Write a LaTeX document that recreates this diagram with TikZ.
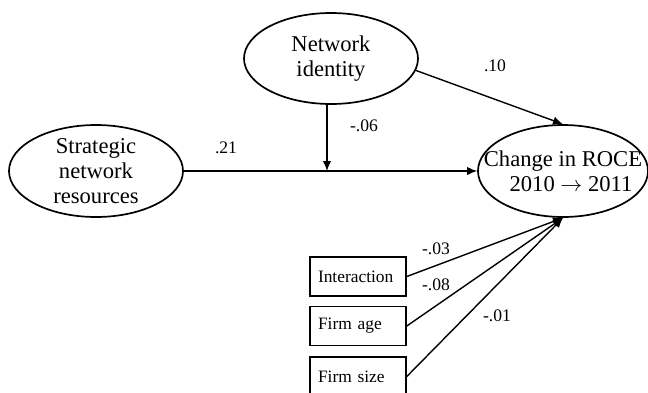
\documentclass[tikz,border=0pt]{standalone}
\usepackage{fontspec}
\setmainfont{Liberation Serif}
\usetikzlibrary{shapes.geometric,arrows.meta}
\tikzset{
  latent/.style={ellipse, draw, line width=0.85pt, inner sep=0pt},
  latenttext/.style={align=center, font=\fontsize{11.3}{12.4}\selectfont},
  observed/.style={rectangle, draw, line width=0.8pt, inner xsep=4pt,
    text width=40pt, align=left, minimum height=19.5pt,
    font=\fontsize{8.7}{10}\selectfont},
  path/.style={line width=0.7pt, -{Latex[length=5pt,width=4.2pt]}},
  coef/.style={font=\fontsize{8.8}{10}\selectfont, inner sep=0pt}
}
\begin{document}
\begin{tikzpicture}[x=0.5pt, y=-0.5pt]
  \useasboundingbox (0,0) rectangle (648,392);

  % latent constructs: outline sized explicitly, text set on top
  \node[latent, minimum width=87pt, minimum height=45.5pt,
        label={[latenttext]center:{Network\\identity}}] (ni) at (331,58.5) {};
  \node[latent, minimum width=87pt, minimum height=46pt,
        label={[latenttext]center:{Strategic\\network\\resources}}] (snr) at (96,171) {};
  \node[latent, minimum width=85pt, minimum height=46pt,
        label={[latenttext]center:{Change in ROCE\\\hspace*{8pt}2010 $\rightarrow$ 2011}}] (roce) at (563,171) {};

  % control variables
  \node[observed] (int) at (358,276.5) {Interaction};
  \node[observed] (age) at (358,326) {Firm age};
  \node[observed] (size) at (358,376.5) {Firm size};

  % moderation point on the main path
  \coordinate (mod) at (327,171);

  % structural paths
  \draw[path] (snr.east) -- (roce.west);
  \draw[path] (ni.south -| mod) -- (mod);
  \draw[path] (ni.-8) -- (roce.north);
  \draw[path] (int.east) -- (roce.south);
  \draw[path] (age.east) -- (roce.south);
  \draw[path] (size.east) -- (roce.south);

  % path coefficients
  \node[coef] at (226,148) {.21};
  \node[coef] at (364,126) {-.06};
  \node[coef] at (495,66) {.10};
  \node[coef] at (436,249) {-.03};
  \node[coef] at (436,285) {-.08};
  \node[coef] at (497,316) {-.01};
\end{tikzpicture}
\end{document}
